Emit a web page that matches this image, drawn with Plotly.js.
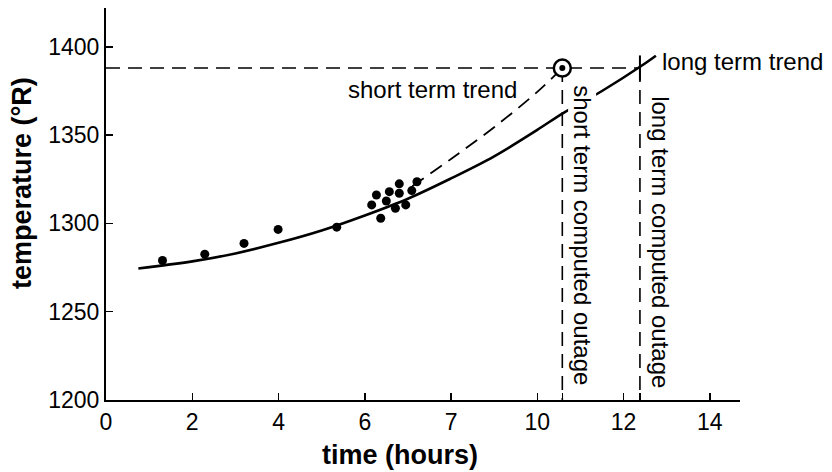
<!DOCTYPE html>
<html>
<head>
<meta charset="utf-8">
<script src="https://cdn.plot.ly/plotly-3.0.1.min.js"></script>
<style>html,body{margin:0;padding:0;background:#fff;}#chart{width:832px;height:472px;}</style>
</head>
<body>
<div id="chart"></div>
<script>
// observed data points
const obsX = [1.31, 2.29, 3.20, 3.99, 5.35, 6.16, 6.27, 6.37, 6.57, 6.50, 6.80, 6.80, 6.71, 6.95, 7.09, 7.21];
const obsY = [1279.0, 1282.6, 1288.7, 1296.6, 1297.9, 1310.5, 1316.1, 1302.9, 1318.0, 1312.7, 1322.4, 1317.1, 1308.6, 1310.5, 1318.6, 1323.6];
// long term trend (solid)
const longX = [0.75, 2, 3, 4, 5, 6, 7, 8, 9, 10, 10.6, 11.5, 12.4, 12.75];
const longY = [1274.5, 1278.5, 1283, 1289, 1296, 1304.5, 1314, 1325.5, 1338, 1353, 1362.5, 1375, 1389, 1395];
// short term trend (dashed)
const shortX = [7.1, 8, 9, 10, 10.58];
const shortY = [1321, 1336.5, 1354.5, 1374.5, 1388];
// limit and outage times
const limitTemp = 1388;
const shortOutage = 10.58;
const longOutage = 12.38;
const yMin = 1200;
// axis ticks
const xTickVals = [0, 2, 4, 6, 8, 10, shortOutage, 12, longOutage, 14];
const xTickText = ['0', '2', '4', '6', '7', '10', '', '12', '', '14'];
const yTickVals = [1200, 1250, 1300, 1350, 1400];
const yTickText = ['1200', '1250', '1300', '1350', '1400'];

const FONT = 'Liberation Sans Narrow, Arial Narrow, Liberation Sans, Arial, sans-serif';
const dashed = '14px,8px';

const traces = [
  {x: [0, longOutage], y: [limitTemp, limitTemp], mode: 'lines', line: {color: 'black', width: 1.6, dash: dashed}, hoverinfo: 'skip'},
  {x: [shortOutage, shortOutage], y: [limitTemp, yMin], mode: 'lines', line: {color: 'black', width: 1.6, dash: dashed}, hoverinfo: 'skip'},
  {x: [longOutage, longOutage], y: [limitTemp, yMin], mode: 'lines', line: {color: 'black', width: 1.6, dash: dashed}, hoverinfo: 'skip'},
  {x: longX, y: longY, mode: 'lines', line: {color: 'black', width: 2.6, shape: 'spline'}, hoverinfo: 'skip'},
  {x: shortX, y: shortY, mode: 'lines', line: {color: 'black', width: 1.8, dash: dashed, shape: 'spline'}, hoverinfo: 'skip'},
  {x: obsX, y: obsY, mode: 'markers', marker: {color: 'black', size: 9}, hoverinfo: 'skip'},
  {x: [shortOutage], y: [limitTemp], mode: 'markers', marker: {symbol: 'circle', color: 'white', size: 17, line: {color: 'black', width: 2.5}}, hoverinfo: 'skip'},
  {x: [shortOutage], y: [limitTemp], mode: 'markers', marker: {symbol: 'circle', color: 'black', size: 6}, hoverinfo: 'skip'},
  {x: [longOutage], y: [limitTemp], mode: 'markers', marker: {symbol: 'line-ns', color: 'black', size: 18, line: {color: 'black', width: 2}}, hoverinfo: 'skip'}
];

const layout = {
  width: 832, height: 472,
  margin: {l: 106, r: 92, t: 8, b: 72},
  paper_bgcolor: 'white', plot_bgcolor: 'white',
  showlegend: false,
  font: {family: FONT, color: 'black', size: 23},
  xaxis: {
    range: [0, 14.7], showline: true, linewidth: 2, linecolor: 'black',
    ticks: 'inside', ticklen: 7, tickwidth: 1.5, tickcolor: 'black',
    showgrid: false, zeroline: false,
    tickmode: 'array', tickvals: xTickVals, ticktext: xTickText,
    tickfont: {size: 23, family: FONT}
  },
  yaxis: {
    range: [1200, 1422], showline: true, linewidth: 2, linecolor: 'black',
    ticks: 'inside', ticklen: 7, tickwidth: 1.5, tickcolor: 'black',
    showgrid: false, zeroline: false,
    tickmode: 'array', tickvals: yTickVals, ticktext: yTickText,
    tickfont: {size: 23, family: FONT}
  },
  annotations: [
    {x: 0.4637, y: -0.14, xref: 'paper', yref: 'paper', xanchor: 'center', yanchor: 'middle', text: '<b>time (hours)</b>', showarrow: false, font: {size: 27, family: FONT}},
    {x: -0.1325, y: 0.5536, xref: 'paper', yref: 'paper', xanchor: 'center', yanchor: 'middle', text: '<b>temperature (°R)</b>', textangle: -90, showarrow: false, font: {size: 27, family: FONT}},
    {x: 7.56, y: 1375.6, xref: 'x', yref: 'y', text: 'short term trend', showarrow: false, font: {size: 24, family: FONT}},
    {x: 12.84, y: 1391.5, xref: 'x', yref: 'y', text: 'long term trend', showarrow: false, xanchor: 'left', font: {size: 24, family: FONT}},
    {x: 11.03, y: 1293.5, xref: 'x', yref: 'y', text: 'short term computed outage', textangle: 90, showarrow: false, bgcolor: 'white', borderpad: 0, font: {size: 24, family: FONT}},
    {x: 12.84, y: 1289.5, xref: 'x', yref: 'y', text: 'long term computed outage', textangle: 90, showarrow: false, font: {size: 24, family: FONT}}
  ]
};

Plotly.newPlot('chart', traces, layout, {displayModeBar: false, staticPlot: true});
</script>
</body>
</html>
